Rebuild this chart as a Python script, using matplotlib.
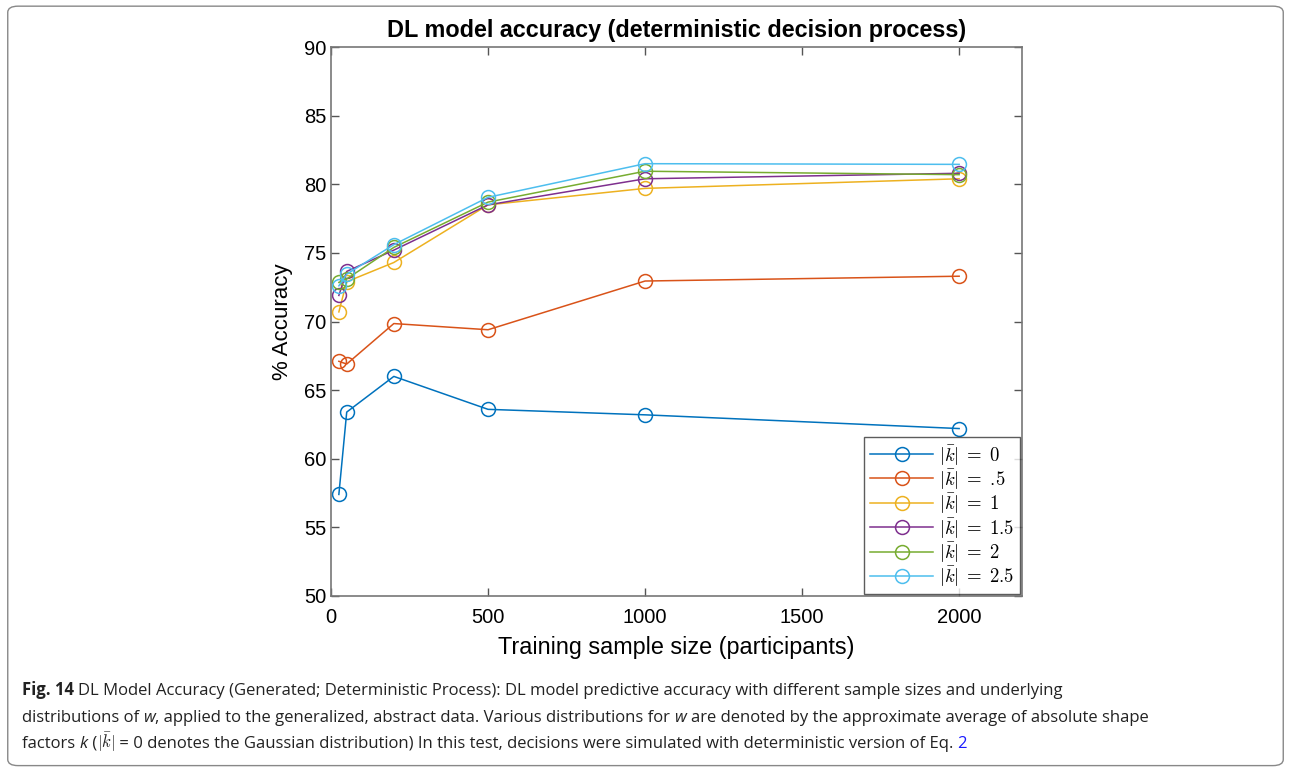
import matplotlib.pyplot as plt
from matplotlib.patches import FancyBboxPatch

# ---------------------------- data ------------------------------------
sample_size = [25, 50, 200, 500, 1000, 2000]
acc_k0 = [57.4, 63.4, 66.0, 63.6, 63.2, 62.2]
acc_k05 = [67.1, 66.9, 69.85, 69.4, 72.95, 73.3]
acc_k1 = [70.7, 72.9, 74.3, 78.5, 79.7, 80.4]
acc_k15 = [71.9, 73.65, 75.2, 78.5, 80.4, 80.8]
acc_k2 = [72.85, 73.1, 75.4, 78.7, 80.95, 80.7]
acc_k25 = [72.6, 73.45, 75.6, 79.05, 81.5, 81.45]
series = [acc_k0, acc_k05, acc_k1, acc_k15, acc_k2, acc_k25]
labels = [r'$|\bar{k}|\;=\;0$', r'$|\bar{k}|\;=\;.\!5$', r'$|\bar{k}|\;=\;1$',
          r'$|\bar{k}|\;=\;1.5$', r'$|\bar{k}|\;=\;2$', r'$|\bar{k}|\;=\;2.5$']
colors = ['#0072BD', '#D95319', '#EDB120', '#7E2F8E', '#77AC30', '#4DBEEE']

plt.rcParams['mathtext.fontset'] = 'cm'
plt.rcParams['font.family'] = 'Liberation Sans'

fig = plt.figure(figsize=(12.91, 7.71), dpi=100)
ax = fig.add_axes([0.2564, 0.227, 0.5352, 0.712])

for ys, lab, c in zip(series, labels, colors):
    ax.plot(sample_size, ys, color=c, lw=1.1, marker='o', ms=10,
            mfc='none', mew=1.1, label=lab)

ax.set_xlim(0, 2200)
ax.set_ylim(50, 90)
ax.set_xticks([0, 500, 1000, 1500, 2000])
ax.set_yticks(range(50, 91, 5))
ax.tick_params(direction='in', top=True, right=True, labelsize=14.5,
               length=6, color='#555555', width=1)
ax.tick_params(axis='x', pad=9)
for s in ax.spines.values():
    s.set_color('#777777')
    s.set_linewidth(1.2)
ax.set_title('DL model accuracy (deterministic decision process)',
             fontsize=16.8, fontweight='bold', pad=7)
ax.set_xlabel('Training sample size (participants)', fontsize=16.8, labelpad=6)
ax.set_ylabel('% Accuracy', fontsize=16, labelpad=8)

leg = ax.legend(loc='lower right', fontsize=13.5, frameon=True, fancybox=False,
                edgecolor='#333333', handlelength=3.4, borderaxespad=0.1,
                labelspacing=0.02, handletextpad=0.3, borderpad=0.3)
leg.get_frame().set_linewidth(1)

# --------------------------- caption ----------------------------------
renderer = fig.canvas.get_renderer()


def caption_line(y, pieces):
    x = 0.017
    for txt, kw in pieces:
        style = dict(fontsize=12, family='Open Sans', color='#222222')
        style.update(kw)
        t = fig.text(x, y, txt, va='baseline', ha='left', **style)
        w = t.get_window_extent(renderer).width
        x += w / fig.bbox.width


caption_line(0.098, [('Fig. 14 ', {'fontweight': 'bold'}),
                     ('DL Model Accuracy (Generated; Deterministic Process): DL model '
                      'predictive accuracy with different sample sizes and underlying', {})])
caption_line(0.064, [('distributions of ', {}), ('w', {'style': 'italic'}),
                     (', applied to the generalized, abstract data. Various distributions for ', {}),
                     ('w ', {'style': 'italic'}),
                     ('are denoted by the approximate average of absolute shape', {})])
caption_line(0.030, [('factors ', {}), ('k', {'style': 'italic'}), (' (', {}),
                     (r'$|\bar{k}|$', {}),
                     (' = 0 denotes the Gaussian distribution) In this test, decisions '
                      'were simulated with deterministic version of Eq. ', {}),
                     ('2', {'color': '#1a1aff'})])

fig.patches.append(FancyBboxPatch((0.006, 0.007), 0.988, 0.985,
                                  boxstyle='round,pad=0,rounding_size=0.008',
                                  transform=fig.transFigure, fill=False,
                                  edgecolor='#888888', lw=1))

fig.savefig('out.png', dpi=100)
